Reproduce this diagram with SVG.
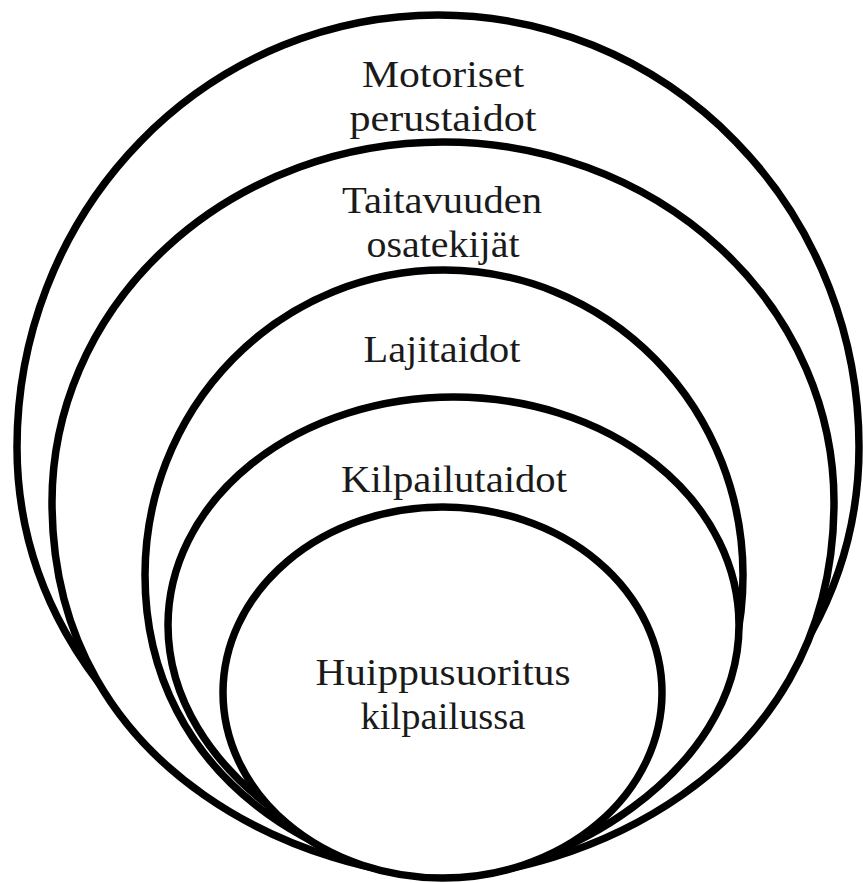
<svg xmlns="http://www.w3.org/2000/svg" width="863" height="883" viewBox="0 0 863 883">
  <style>
    .ring { fill: #ffffff; stroke: #000000; stroke-width: 7.5; }
    .lbl { font-family: "Liberation Serif", "Times New Roman", serif; font-size: 38px; fill: #1a1a1a; text-anchor: middle; }
  </style>
  <rect x="0" y="0" width="863" height="883" fill="#ffffff"/>
  <g id="connectors"></g>
  <g id="node-motoriset">
    <path class="ring" d="M17,447 A421,432 0 0 1 859,447 C859,727 568,876 441,876 C314,876 17,727 17,447 Z"/>
    <text class="lbl" x="443" y="87" textLength="162" lengthAdjust="spacingAndGlyphs">Motoriset</text>
    <text class="lbl" x="443" y="131" textLength="187" lengthAdjust="spacingAndGlyphs">perustaidot</text>
  </g>
  <g id="node-taitavuuden">
    <path class="ring" d="M52,502 A391,360 0 0 1 834,502 C834,784 560,876 443,876 C326,876 52,784 52,502 Z"/>
    <text class="lbl" x="442" y="213" textLength="200" lengthAdjust="spacingAndGlyphs">Taitavuuden</text>
    <text class="lbl" x="443" y="257" textLength="153" lengthAdjust="spacingAndGlyphs">osatekijät</text>
  </g>
  <g id="node-lajitaidot">
    <path class="ring" d="M145,575 A299,305 0 0 1 743,575 C743,786 549,876 444,876 C339,876 145,786 145,575 Z"/>
    <text class="lbl" x="442" y="362" textLength="157" lengthAdjust="spacingAndGlyphs">Lajitaidot</text>
  </g>
  <g id="node-kilpailutaidot">
    <path class="ring" d="M168,625 A285.5,228 0 0 1 739,625 C739,776 553,876 448,876 C348,876 168,776 168,625 Z"/>
    <text class="lbl" x="454" y="492" textLength="226" lengthAdjust="spacingAndGlyphs">Kilpailutaidot</text>
  </g>
  <g id="node-huippusuoritus">
    <ellipse class="ring" cx="442.5" cy="692.5" rx="219.5" ry="185.5"/>
    <text class="lbl" x="443" y="685" textLength="255" lengthAdjust="spacingAndGlyphs">Huippusuoritus</text>
    <text class="lbl" x="443" y="729" textLength="165" lengthAdjust="spacingAndGlyphs">kilpailussa</text>
  </g>
</svg>
